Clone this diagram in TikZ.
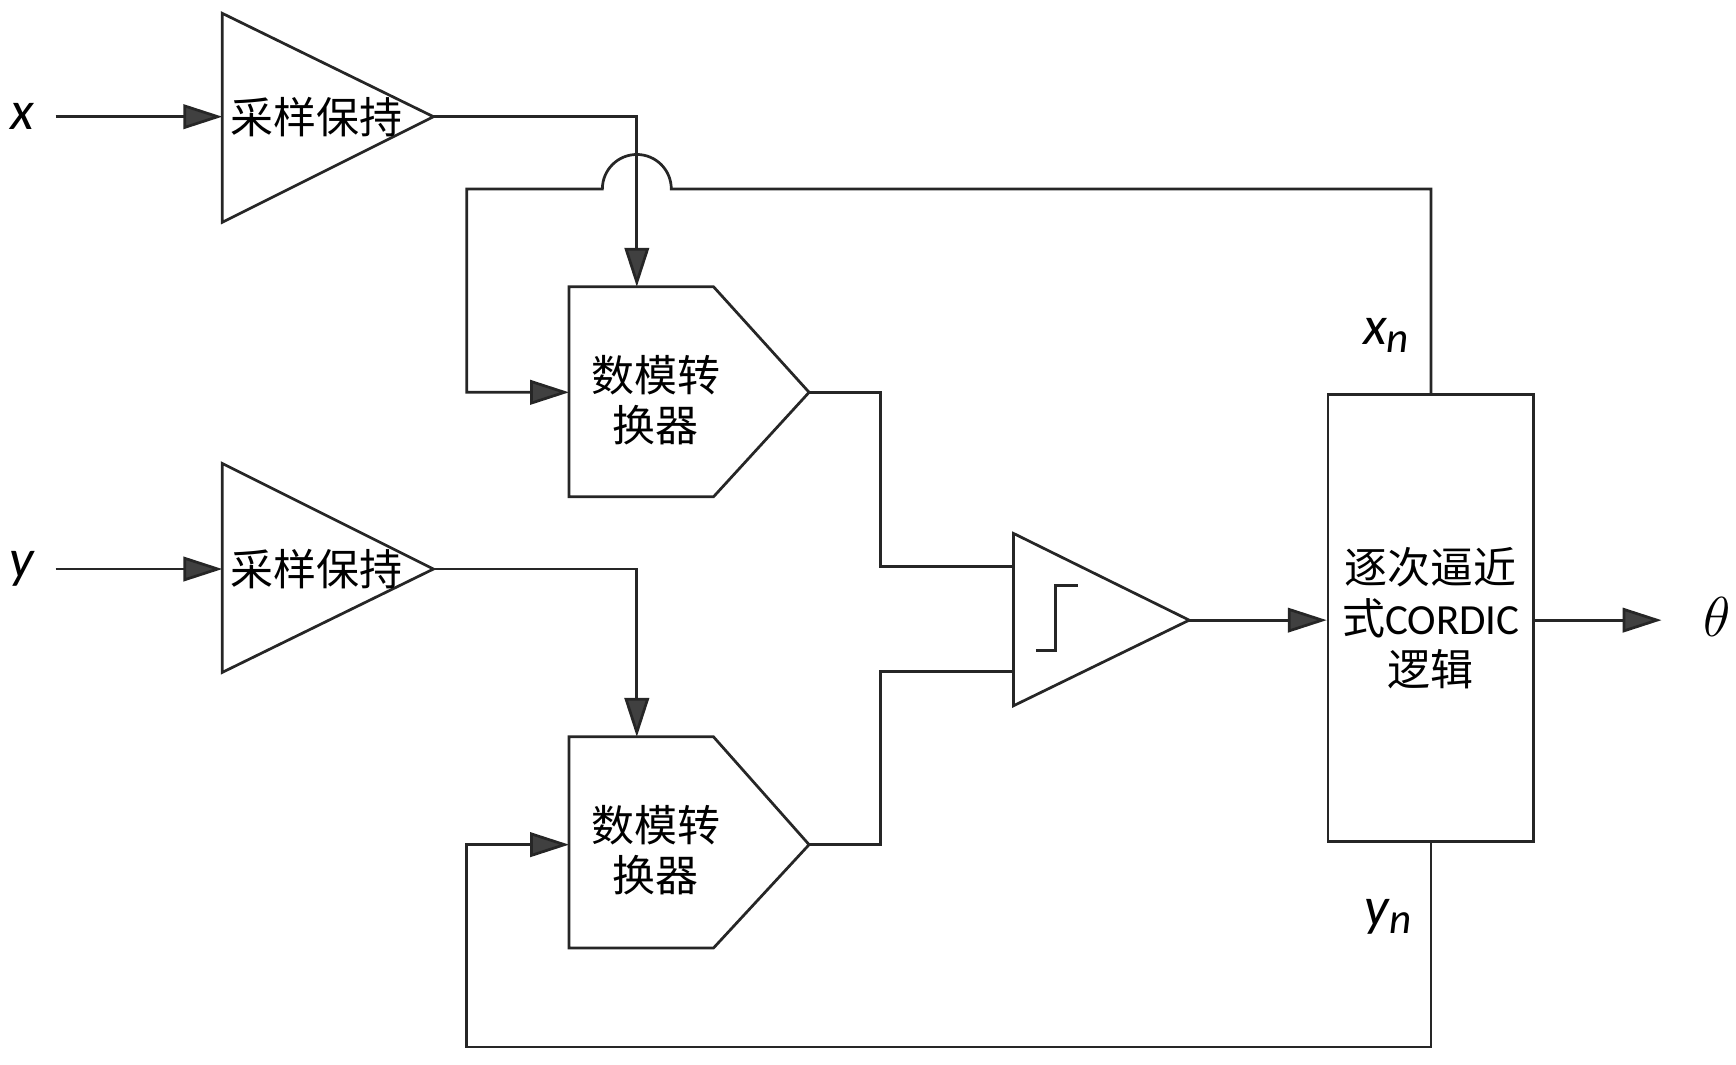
\documentclass[tikz,border=0pt]{standalone}
\usepackage{fontspec}
\setmainfont{Carlito}
\newfontfamily\cjk{Noto Sans CJK SC}
\usetikzlibrary{arrows.meta}
\begin{document}
\begin{tikzpicture}[x=0.01cm,y=-0.01cm,
  ln/.style={draw=black!85,line width=0.7pt},
  arr/.style={ln,-{Triangle[length=0.35cm,width=0.22cm,fill=black!75]}},
  lab/.style={font=\fontsize{11pt}{13pt}\selectfont\cjk,align=center},
  var/.style={font=\fontsize{14pt}{16pt}\selectfont\itshape}]
\useasboundingbox (0,0) rectangle (1562,958);
% sample-hold 1
\draw[ln] (200,12) coordinate (s1t) -- (390,105) coordinate (s1o) -- (200,200) -- cycle;
\node[lab] (s1) at (285,105) {采样保持};
\node[var] (x) at (20,105) {x};
\coordinate (xi) at (50,105); \coordinate (s1i) at (200,105);
\draw[arr] (xi) -- (s1i);
% sample-hold 2
\draw[ln] (200,417) -- (390,512) coordinate (s2o) -- (200,605) -- cycle;
\node[lab] (s2) at (285,512) {采样保持};
\node[var] (y) at (20,512) {y};
\coordinate (yi) at (50,512); \coordinate (s2i) at (200,512);
\draw[arr] (yi) -- (s2i);
% DACs
\draw[ln] (512,258) -- (642,258) -- (728,353) coordinate (d1o) -- (642,447) -- (512,447) -- cycle;
\node[lab] (d1) at (590,360) {数模转\\换器};
\coordinate (d1t) at (573,258); \coordinate (d1l) at (512,353);
\draw[ln] (512,663) -- (642,663) -- (728,760) coordinate (d2o) -- (642,853) -- (512,853) -- cycle;
\node[lab] (d2) at (590,765) {数模转\\换器};
\coordinate (d2t) at (573,663); \coordinate (d2l) at (512,760);
% comparator
\draw[ln] (912,480) -- (1070,558) coordinate (co) -- (912,635) -- cycle;
\coordinate (ci1) at (912,510); \coordinate (ci2) at (912,604);
\draw[ln] (932,585) -- (950,585) -- (950,527) -- (970,527);
% CORDIC
\node[ln,draw,minimum width=1.85cm,minimum height=4.02cm,lab,inner sep=0pt] (cr) at (1287.5,556) {逐次逼近\\式{\fontspec{Carlito}CORDIC}\\逻辑};
\coordinate (theta_o) at (1495,558);
\node[var] (th) at (1545,555) {$\theta$};
% connections
\draw[arr] (s1o) -- (573,105) -- (d1t);
\draw[arr] (s2o) -- (573,512) -- (d2t);
\draw[ln] (d1o) -- (792,353) -- (792,510) -- (ci1);
\draw[ln] (d2o) -- (792,760) -- (792,604) -- (ci2);
\draw[arr] (co) -- (cr.west |- co);
\draw[arr] (cr.east |- co) -- (theta_o);
\draw[arr] (cr.north) -- (1287.5,170) -- (604,170) arc[start angle=0,end angle=-180,radius=31] -- (420,170) -- (420,353) -- (d1l);
\draw[arr] (cr.south) -- (1287.5,942) -- (420,942) -- (420,760) -- (d2l);
\node[var] (xn) at (1248,302) {x\textsubscript{\fontsize{11pt}{12pt}\selectfont n}};
\node[var] (yn) at (1250,825) {y\textsubscript{\fontsize{11pt}{12pt}\selectfont n}};
\end{tikzpicture}
\end{document}
